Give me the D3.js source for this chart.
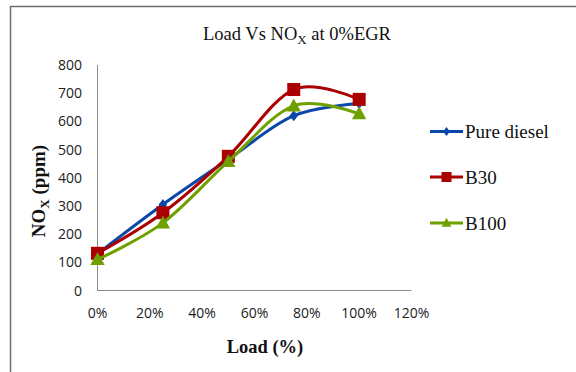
<!DOCTYPE html>
<html><head><meta charset="utf-8">
<script src="https://cdn.jsdelivr.net/npm/d3@7"></script>
<style>body{margin:0;background:#fff}</style>
</head><body>
<svg id="c" width="576" height="372"></svg>
<script>
const loads = [0, 0.25, 0.5, 0.75, 1.0];
const xTicks = [0, 0.2, 0.4, 0.6, 0.8, 1.0, 1.2];
const yTicks = [0, 100, 200, 300, 400, 500, 600, 700, 800];
const pureDiesel = [130, 305, 465, 620, 663];
const b30 = [132, 276, 476, 713, 678];
const b100 = [110, 240, 458, 655, 627];
const seriesNames = ["Pure diesel", "B30", "B100"];
const seriesColors = ["#0A47A8", "#AA0000", "#6FA000"];
const seriesShapes = ["diamond", "square", "triangle"];
const seriesValues = [pureDiesel, b30, b100];

const svg = d3.select("#c");
// outer border
svg.append("path").attr("d","M10.5,380 L10.5,6.5 L580,6.5").attr("fill","none").attr("stroke","#6e6e6e").attr("stroke-width",1.5);

const x = d3.scaleLinear().domain([0,1.2]).range([97.5,411.5]);
const y = d3.scaleLinear().domain([0,800]).range([290.5,65]);

// axes
svg.append("line").attr("x1",x(0)).attr("x2",x(0)).attr("y1",y(800)).attr("y2",y(0)).attr("stroke","#8a8a8a");
svg.append("line").attr("x1",x(0)).attr("x2",x(1.2)).attr("y1",y(0)).attr("y2",y(0)).attr("stroke","#8a8a8a");

svg.selectAll(".yt").data(yTicks).enter().append("text")
  .attr("x",82).attr("y",d=>y(d)+5).attr("text-anchor","end")
  .attr("font-family","Open Sans").attr("font-size",14).attr("fill","#222")
  .text(d=>d);
svg.selectAll(".xt").data(xTicks).enter().append("text")
  .attr("x",d=>x(d)).attr("y",318).attr("text-anchor","middle")
  .attr("font-family","Open Sans").attr("font-size",14).attr("fill","#222")
  .text(d=>d3.format(".0%")(d));

// title
const t = svg.append("text").attr("x",297).attr("y",40).attr("text-anchor","middle")
  .attr("font-family","Liberation Serif").attr("font-size",18.5).attr("fill","#111");
t.append("tspan").text("Load Vs NO");
t.append("tspan").attr("font-size",13).attr("dy",4).text("X");
t.append("tspan").attr("dy",-4).text(" at 0%EGR");

// axis titles
svg.append("text").attr("x",265).attr("y",353).attr("text-anchor","middle")
  .attr("font-family","Liberation Serif").attr("font-weight","bold").attr("font-size",18.5).attr("fill","#111")
  .text("Load (%)");
const yt = svg.append("text").attr("transform","translate(45,191) rotate(-90)").attr("text-anchor","middle")
  .attr("font-family","Liberation Serif").attr("font-weight","bold").attr("font-size",19).attr("fill","#111");
yt.append("tspan").text("NO");
yt.append("tspan").attr("font-size",13).attr("dy",4).text("X");
yt.append("tspan").attr("dy",-4).text(" (ppm)");

const line = d3.line().x((d,i)=>x(loads[i])).y(d=>y(d)).curve(d3.curveCardinal.tension(0));
function marker(g, shape, cx, cy, color, s){
  if(shape==="diamond"){
    g.append("path").attr("d",`M${cx},${cy-s*1.1} L${cx+s*0.85},${cy} L${cx},${cy+s*1.1} L${cx-s*0.85},${cy} Z`).attr("fill",color);
  } else if(shape==="square"){
    g.append("rect").attr("x",cx-s).attr("y",cy-s).attr("width",2*s).attr("height",2*s).attr("fill",color);
  } else {
    g.append("path").attr("d",`M${cx},${cy-s*1.15} L${cx+s*1.1},${cy+s*0.85} L${cx-s*1.1},${cy+s*0.85} Z`).attr("fill",color);
  }
}
const sizes = [5, 6.5, 6.5];
seriesValues.forEach((vals,k)=>{
  const g = svg.append("g");
  g.append("path").attr("d",line(vals)).attr("fill","none").attr("stroke",seriesColors[k]).attr("stroke-width",3);
  vals.forEach((v,i)=>marker(g, seriesShapes[k], x(loads[i]), y(v), seriesColors[k], sizes[k]));
});

// legend
const legY = [131.5, 177, 223];
const legSizes = [4, 5, 4.5];
seriesNames.forEach((n,k)=>{
  const g = svg.append("g");
  g.append("line").attr("x1",430).attr("x2",463).attr("y1",legY[k]).attr("y2",legY[k]).attr("stroke",seriesColors[k]).attr("stroke-width",3);
  marker(g, seriesShapes[k], 446.5, legY[k], seriesColors[k], legSizes[k]);
  g.append("text").attr("x",465).attr("y",legY[k]+6.5).attr("font-family","Liberation Serif").attr("font-size",19).attr("fill","#111").text(n);
});
</script>
</body></html>
